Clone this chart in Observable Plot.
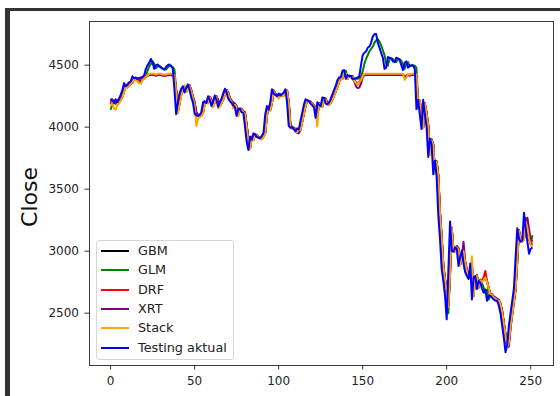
<!DOCTYPE html>
<html>
<head>
<meta charset="utf-8">
<script src="https://cdn.jsdelivr.net/npm/d3@7"></script>
<script src="https://cdn.jsdelivr.net/npm/@observablehq/plot@0.6"></script>
<style>
html,body{margin:0;padding:0;background:#fff;}
#wrap{position:relative;width:560px;height:396px;overflow:hidden;}
#frame{position:absolute;left:5px;top:8px;right:-10px;bottom:-10px;border-top:3px solid #333;border-left:5px solid #333;pointer-events:none;}
#legend{position:absolute;left:96px;top:240px;width:136px;height:118px;border:1px solid #d6d6d6;border-radius:3px;background:rgba(255,255,255,0.85);font-family:"DejaVu Sans",sans-serif;font-size:12.8px;color:#222;}
.row{position:absolute;left:0;height:16px;}
.sw{position:absolute;left:4px;top:7px;width:28px;height:2px;}
.lb{position:absolute;left:41px;top:0;line-height:16px;white-space:nowrap;}
#ylab{position:absolute;left:29px;top:197px;transform:translate(-50%,-50%) rotate(-90deg);font-family:"DejaVu Sans",sans-serif;font-size:22px;color:#111;white-space:nowrap;}
</style>
</head>
<body>
<div id="wrap"></div>
<script>
const seriesNames = ["GBM","GLM","DRF","XRT","Stack","Testing aktual"];
const seriesColors = ["#000000","#008000","#ff0000","#800080","#ffa500","#0000ff"];
const xTicks = [0,50,100,150,200,250];
const yTicks = [2500,3000,3500,4000,4500];
const yLabel = "Close";

const actual = [4230,4215,4195,4225,4205,4230,4260,4300,4355,4330,
4345,4360,4370,4410,4395,4400,4390,4395,4400,4405,
4420,4470,4500,4520,4550,4520,4470,4500,4505,4490,
4480,4470,4465,4485,4500,4505,4490,4475,4300,4105,
4200,4270,4310,4330,4280,4320,4345,4300,4240,4200,
4110,4095,4090,4100,4120,4200,4210,4195,4250,4220,
4170,4210,4255,4220,4165,4200,4230,4270,4310,4280,
4230,4210,4195,4175,4160,4090,4150,4145,4120,4115,
4000,3880,3815,3925,3900,3950,3940,3920,3915,3910,
3930,3955,4100,4170,4140,4200,4305,4270,4260,4250,
4270,4255,4265,4280,4305,4200,4010,3995,4000,3985,
3965,3990,3980,4050,4115,4180,4225,4215,4210,4190,
4175,4160,4075,4200,4180,4170,4240,4235,4190,4185,
4200,4230,4265,4300,4335,4380,4400,4405,4455,4460,
4390,4420,4410,4415,4385,4390,4395,4400,4410,4500,
4580,4600,4610,4640,4650,4680,4730,4750,4752,4680,
4640,4600,4560,4470,4480,4565,4560,4555,4530,4525,
4560,4555,4540,4500,4460,4520,4530,4480,4495,4500,
4495,4470,4145,4220,4100,3985,4220,4100,4005,3760,
3910,3860,3620,3730,3600,3290,3100,2860,2760,2640,
2450,2850,3240,3000,2995,3030,3020,2880,2950,3005,
2900,2830,2800,2775,2900,2610,2790,2800,2695,2760,
2745,2700,2665,2690,2600,2640,2640,2625,2610,2600,
2600,2560,2500,2400,2300,2185,2250,2400,2500,2600,
2700,2950,3185,3100,3075,3090,3310,3180,3075,2980,
3020,3030];

const glm = [4140,4180,4200,4190,4215,4210,4230,4255,4290,4330,
4330,4340,4355,4365,4390,4390,4395,4390,4390,4395,
4400,4415,4455,4490,4510,4530,4510,4475,4490,4495,
4485,4475,4465,4465,4480,4495,4495,4485,4465,4310,
4130,4195,4260,4300,4320,4285,4315,4335,4295,4240,
4200,4120,4100,4085,4095,4115,4190,4205,4195,4240,
4215,4175,4205,4245,4215,4170,4195,4225,4265,4300,
4280,4230,4210,4195,4175,4160,4100,4145,4140,4120,
4110,4005,3890,3830,3915,3900,3940,3935,3920,3910,
3910,3925,3950,4090,4160,4140,4195,4295,4270,4255,
4250,4265,4255,4260,4275,4295,4200,4025,4000,3995,
3985,3970,3985,3980,4045,4110,4170,4215,4210,4205,
4190,4175,4160,4085,4190,4175,4170,4230,4230,4190,
4185,4195,4225,4260,4295,4330,4370,4395,4400,4445,
4455,4395,4415,4410,4410,4385,4390,4390,4395,4410,
4450,4510,4550,4580,4610,4630,4650,4680,4700,4710,
4690,4660,4620,4580,4510,4495,4550,4555,4550,4530,
4525,4550,4550,4535,4505,4470,4510,4525,4490,4495,
4500,4495,4480,4200,4215,4115,4000,4190,4110,4020,
3790,3895,3860,3640,3720,3610,3320,3120,2890,2780,
2660,2500,2820,3180,3020,3000,3040,3025,2895,2950,
3000,2910,2840,2810,2785,2890,2640,2780,2800,2705,
2755,2745,2705,2675,2690,2610,2640,2640,2625,2615,
2605,2600,2565,2510,2420,2330,2230,2260,2390,2490,
2590,2690,2920,3150,3100,3080,3090,3270,3190,3100,
3050,3130];

const drf = [4190,4225,4205,4195,4215,4205,4225,4250,4290,4340,
4325,4340,4355,4365,4395,4385,4390,4380,4385,4390,
4395,4410,4420,4425,4425,4425,4425,4420,4425,4425,
4425,4420,4420,4420,4425,4425,4425,4420,4415,4300,
4120,4195,4265,4300,4320,4285,4315,4335,4295,4240,
4195,4115,4100,4090,4100,4120,4195,4205,4195,4245,
4215,4175,4205,4250,4215,4170,4200,4225,4265,4300,
4275,4230,4210,4195,4185,4165,4100,4150,4145,4125,
4115,4010,3890,3830,3920,3900,3945,3935,3920,3915,
3910,3930,3955,4095,4165,4140,4195,4295,4265,4255,
4250,4265,4255,4260,4275,4295,4200,4015,3995,3995,
3985,3965,3985,3980,4045,4110,4175,4215,4210,4205,
4190,4175,4160,4080,4195,4175,4170,4235,4230,4190,
4185,4200,4225,4260,4295,4330,4370,4390,4395,4420,
4425,4390,4415,4405,4410,4380,4360,4350,4365,4385,
4410,4425,4425,4425,4425,4425,4425,4425,4425,4425,
4425,4425,4425,4425,4425,4425,4425,4425,4425,4425,
4425,4425,4425,4425,4425,4405,4415,4425,4420,4425,
4425,4425,4420,4150,4215,4105,3995,4195,4110,4015,
3780,3900,3860,3630,3725,3610,3310,3110,2880,2770,
2655,2560,2830,3190,3010,2995,3035,3020,2890,2955,
3005,2910,2840,2810,2785,2895,2640,2790,2805,2715,
2770,2760,2790,2840,2760,2700,2650,2650,2630,2620,
2610,2605,2575,2515,2420,2320,2230,2270,2400,2500,
2600,2700,2940,3170,3100,3080,3095,3250,3200,3110,
3060,3070];

const xrt = [4210,4220,4200,4200,4210,4210,4220,4245,4285,4335,
4320,4335,4350,4360,4390,4380,4375,4360,4365,4385,
4390,4405,4415,4420,4420,4420,4420,4415,4420,4420,
4420,4415,4415,4415,4420,4420,4420,4415,4410,4310,
4130,4190,4260,4295,4315,4290,4310,4330,4300,4245,
4200,4120,4095,4085,4095,4115,4190,4200,4195,4240,
4220,4180,4200,4245,4220,4175,4195,4220,4260,4295,
4280,4235,4215,4200,4190,4170,4105,4145,4140,4130,
4120,4020,3900,3840,3910,3895,3940,3930,3915,3910,
3905,3925,3950,4085,4160,4145,4190,4290,4270,4250,
4245,4260,4250,4255,4270,4290,4210,4025,3990,3990,
3980,3955,3950,3975,4040,4105,4170,4210,4205,4200,
4185,4170,4155,4090,4190,4170,4165,4230,4225,4195,
4180,4195,4220,4255,4290,4325,4365,4385,4390,4415,
4420,4395,4410,4400,4405,4370,4330,4315,4320,4350,
4400,4420,4420,4420,4420,4420,4420,4420,4420,4420,
4420,4420,4420,4420,4420,4420,4420,4420,4420,4420,
4420,4420,4420,4420,4420,4410,4410,4420,4415,4420,
4420,4420,4415,4180,4200,4110,4000,4190,4120,4020,
3790,3895,3865,3640,3720,3620,3320,3120,2890,2780,
2665,2570,2820,3180,3015,3000,3040,3025,2895,2950,
3075,2920,2850,2815,2790,2890,2650,2785,2800,2720,
2765,2755,2770,2790,2755,2705,2655,2650,2635,2625,
2615,2605,2580,2520,2430,2330,2225,2230,2380,2490,
2590,2690,2920,3160,3100,3080,3100,3200,3270,3180,
3090,3080];

const stack = [4170,4200,4150,4140,4180,4190,4215,4240,4280,4325,
4320,4330,4350,4360,4385,4375,4370,4355,4350,4380,
4390,4405,4420,4430,4430,4430,4430,4425,4430,4430,
4430,4425,4425,4425,4430,4430,4430,4425,4420,4290,
4110,4180,4250,4295,4340,4280,4310,4330,4290,4230,
4180,4010,4070,4080,4090,4110,4180,4200,4190,4240,
4200,4160,4200,4245,4150,4165,4195,4220,4260,4295,
4270,4225,4205,4150,4180,4160,4090,4140,4140,4120,
4110,4000,3880,3820,3915,3895,3940,3930,3915,3905,
3900,3920,3950,4090,4160,4130,4190,4290,4260,4250,
4230,4260,4250,4255,4270,4290,4195,4010,3985,3990,
3975,3960,3980,3975,4040,4105,4170,4210,4205,4200,
4185,4170,4155,4005,4190,4165,4160,4230,4220,4180,
4180,4195,4220,4255,4290,4325,4365,4385,4390,4440,
4430,4390,4410,4400,4405,4375,4355,4345,4360,4380,
4410,4430,4430,4430,4430,4430,4430,4430,4430,4430,
4430,4430,4430,4430,4430,4430,4430,4430,4430,4430,
4430,4430,4430,4430,4430,4380,4400,4430,4425,4430,
4430,4430,4425,4160,4210,4100,3990,4190,4105,4010,
3775,3895,3855,3625,3720,3605,3305,3105,2875,2765,
2650,2550,2825,3185,3005,2990,3030,3015,2885,2950,
3000,2905,2835,2805,2780,2960,2635,2785,2800,2710,
2765,2750,2770,2790,2750,2700,2650,2645,2625,2615,
2605,2600,2570,2510,2415,2315,2225,2265,2395,2495,
2595,2695,2935,3165,3095,3075,3090,3240,3190,3100,
3050,3030];

const gbm = [4185,4220,4200,4190,4210,4200,4220,4245,4290,4335,
4325,4335,4350,4360,4390,4385,4385,4375,4380,4390,
4395,4405,4420,4425,4425,4425,4425,4420,4425,4425,
4425,4420,4420,4420,4425,4425,4425,4420,4415,4300,
4125,4190,4260,4300,4320,4285,4315,4335,4295,4240,
4195,4110,4095,4090,4100,4120,4195,4205,4195,4245,
4215,4175,4205,4250,4210,4170,4200,4225,4265,4300,
4275,4230,4210,4190,4185,4165,4100,4150,4145,4125,
4115,4010,3890,3830,3920,3900,3945,3935,3920,3915,
3910,3930,3955,4095,4165,4140,4195,4295,4265,4255,
4250,4265,4255,4260,4275,4295,4200,4015,3995,3995,
3985,3965,3980,3980,4045,4110,4175,4215,4210,4205,
4190,4175,4160,4080,4195,4175,4170,4235,4230,4190,
4185,4200,4225,4260,4295,4330,4370,4390,4395,4420,
4425,4390,4415,4405,4410,4380,4355,4345,4360,4385,
4410,4425,4425,4425,4425,4425,4425,4425,4425,4425,
4425,4425,4425,4425,4425,4425,4425,4425,4425,4425,
4425,4425,4425,4425,4425,4400,4410,4425,4420,4425,
4425,4425,4420,4155,4210,4105,3995,4190,4110,4015,
3780,3900,3860,3630,3725,3610,3310,3110,2880,2770,
2655,2555,2830,3185,3010,2995,3035,3020,2890,2955,
3005,2910,2840,2810,2785,2895,2640,2790,2805,2715,
2770,2755,2780,2800,2755,2700,2650,2650,2630,2620,
2610,2605,2575,2515,2420,2320,2230,2270,2400,2500,
2600,2700,2940,3170,3100,3080,3095,3245,3200,3105,
3055,3050];

const seriesValues = [gbm, glm, drf, xrt, stack, actual];

const rows = [];
seriesValues.forEach((vals, s) => {
  vals.forEach((v, i) => rows.push({series: seriesNames[s], idx: i, value: v}));
});

const chart = Plot.plot({
  width: 560,
  height: 396,
  marginLeft: 89,
  marginRight: 7,
  marginTop: 21,
  marginBottom: 31,
  style: {fontFamily: "'DejaVu Sans', sans-serif", fontSize: "12px", color: "#222", background: "transparent", overflow: "visible"},
  x: {domain: [-12.55, 263.55], label: null},
  y: {domain: [2078, 4852], label: null},
  color: {domain: seriesNames, range: seriesColors},
  marks: [
    Plot.line(rows, {x: "idx", y: "value", z: "series", stroke: "series", strokeWidth: 2, strokeLinejoin: "round", strokeLinecap: "butt"}),
    Plot.frame({stroke: "#3a3a3a", strokeWidth: 1}),
    Plot.axisX({ticks: xTicks, tickSize: 4.5, tickPadding: 6.5, label: null, tickFormat: d3.format("d"), stroke: "#333"}),
    Plot.axisY({ticks: yTicks, tickSize: 4.5, tickPadding: 6, label: null, tickFormat: d3.format("d"), stroke: "#333"})
  ]
});

const wrap = document.getElementById("wrap");
chart.style.position = "absolute";
chart.style.left = "0px";
chart.style.top = "0px";
wrap.appendChild(chart);

const ylab = document.createElement("div");
ylab.id = "ylab";
ylab.textContent = yLabel;
wrap.appendChild(ylab);

const legend = document.createElement("div");
legend.id = "legend";
seriesNames.forEach((name, k) => {
  const row = document.createElement("div");
  row.className = "row";
  row.style.top = (1.7 + k * 19.4) + "px";
  row.style.width = "100%";
  const sw = document.createElement("div");
  sw.className = "sw";
  sw.style.background = seriesColors[k];
  const lb = document.createElement("div");
  lb.className = "lb";
  lb.textContent = name;
  row.appendChild(sw);
  row.appendChild(lb);
  legend.appendChild(row);
});
wrap.appendChild(legend);

const frame = document.createElement("div");
frame.id = "frame";
wrap.appendChild(frame);
</script>
</body>
</html>
